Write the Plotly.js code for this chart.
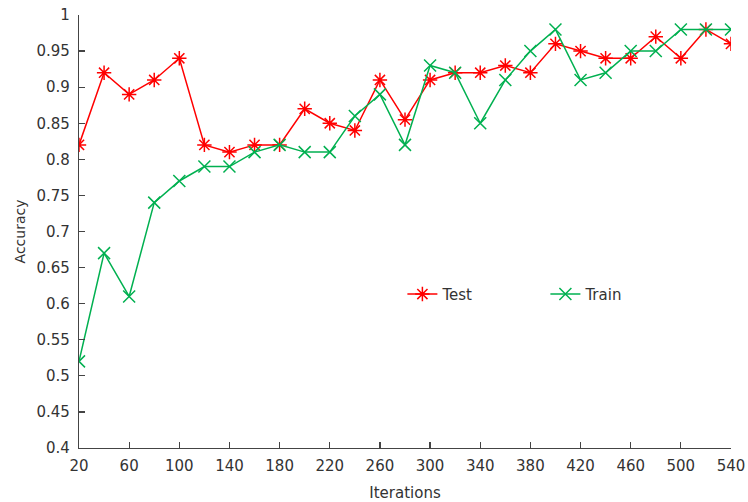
<!DOCTYPE html>
<html>
<head>
<meta charset="utf-8">
<script src="https://cdn.plot.ly/plotly-3.0.1.min.js"></script>
<style>html,body{margin:0;padding:0;background:#fff}#chart{width:748px;height:502px}</style>
</head>
<body>
<div id="chart"></div>
<script>
const iterations = [20,40,60,80,100,120,140,160,180,200,220,240,260,280,300,320,340,360,380,400,420,440,460,480,500,520,540];
const testAcc  = [0.82,0.92,0.89,0.91,0.94,0.82,0.81,0.82,0.82,0.87,0.85,0.84,0.91,0.855,0.91,0.92,0.92,0.93,0.92,0.96,0.95,0.94,0.94,0.97,0.94,0.98,0.96];
const trainAcc = [0.52,0.67,0.61,0.74,0.77,0.79,0.79,0.81,0.82,0.81,0.81,0.86,0.89,0.82,0.93,0.92,0.85,0.91,0.95,0.98,0.91,0.92,0.95,0.95,0.98,0.98,0.98];
const xTicks = [20,60,100,140,180,220,260,300,340,380,420,460,500,540];
const yTicks = [0.4,0.45,0.5,0.55,0.6,0.65,0.7,0.75,0.8,0.85,0.9,0.95,1];
const yTickText = ['0.4','0.45','0.5','0.55','0.6','0.65','0.7','0.75','0.8','0.85','0.9','0.95','1'];

const red = '#FF0000', green = '#00B050';
const traces = [
  {x: iterations, y: testAcc, name: 'Test', type: 'scatter', mode: 'lines+markers',
   line: {color: red, width: 1.5},
   marker: {symbol: 'asterisk-open', size: 12, color: red, line: {color: red, width: 1.5}}},
  {x: iterations, y: trainAcc, name: 'Train', type: 'scatter', mode: 'lines+markers',
   line: {color: green, width: 1.5},
   marker: {symbol: 'x-thin-open', size: 12, color: green, line: {color: green, width: 1.5}}}
];
const fam = 'DejaVu Sans, Verdana, sans-serif';
const axFont = {family: fam, size: 15, color: '#333'};
const layout = {
  width: 748, height: 502,
  margin: {l: 79, r: 17, t: 15, b: 54},
  paper_bgcolor: '#fff', plot_bgcolor: '#fff',
  font: axFont,
  showlegend: true,
  legend: {orientation: 'h', x: 0.496, y: 0.355, xanchor: 'left', yanchor: 'middle',
           bgcolor: 'rgba(0,0,0,0)', font: {family: fam, size: 15, color: '#333'},
           entrywidth: 98, entrywidthmode: 'pixels'},
  xaxis: {range: [20, 540], tickvals: xTicks, ticktext: xTicks.map(String),
          showgrid: false, zeroline: false, showline: true, linecolor: '#444', linewidth: 1.2,
          ticks: 'inside', ticklen: 6, tickcolor: '#444', tickwidth: 1.2, tickfont: axFont,
          ticklabelstandoff: 4,
          title: {text: 'Iterations', font: {family: fam, size: 15, color: '#333'}, standoff: 14},
          automargin: false},
  yaxis: {range: [0.4, 1], tickvals: yTicks, ticktext: yTickText,
          showgrid: false, zeroline: false, showline: true, linecolor: '#444', linewidth: 1.2,
          ticks: 'inside', ticklen: 6, tickcolor: '#444', tickwidth: 1.2, tickfont: axFont,
          ticklabelstandoff: 5,
          title: {text: 'Accuracy', font: {family: fam, size: 14, color: '#333'}, standoff: 7},
          automargin: false}
};
Plotly.newPlot('chart', traces, layout, {displayModeBar: false, staticPlot: true});
</script>
</body>
</html>
